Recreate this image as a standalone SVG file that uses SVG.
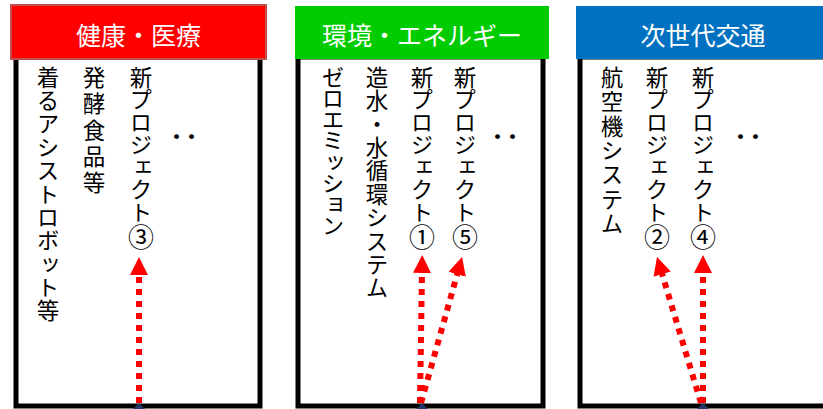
<svg xmlns="http://www.w3.org/2000/svg" width="823" height="409" viewBox="0 0 823 409">
  <style>
    .box { fill: #FFFFFF; stroke: #000000; stroke-width: 5; }
    .hdrtxt { font-family: "Noto Sans CJK JP", sans-serif; font-size: 25px; fill: #FFFFFF; text-anchor: middle; dominant-baseline: central; }
    .vt { font-family: "Noto Sans CJK JP", sans-serif; font-size: 22.5px; fill: #000000; writing-mode: vertical-rl; }
    .num { font-size: 26px; }
    .dots { font-family: "Noto Sans CJK JP", sans-serif; font-size: 30px; font-weight: bold; fill: #000000; text-anchor: middle; }
    .arrow { fill: none; stroke: #FF0000; stroke-width: 6; stroke-dasharray: 6 6; marker-end: url(#head); }
    .src { fill: #1F3864; }
  </style>
  <defs>
    <marker id="head" viewBox="0 0 18 18" markerWidth="18" markerHeight="18" refX="2" refY="9" orient="auto" markerUnits="userSpaceOnUse">
      <path d="M0,0 L18,9 L0,18 z" fill="#FF0000"/>
    </marker>
  </defs>
  <rect width="823" height="409" fill="#FFFFFF"/>

  <g id="panel-health">
    <rect class="box" x="16" y="57" width="244" height="349"/>
    <rect x="11" y="5" width="255" height="54" fill="#FF0000" stroke="#C0504D" stroke-width="2"/>
    <text class="hdrtxt" x="138.5" y="34">健康・医療</text>
    <text class="vt" x="48" y="66" textLength="256" lengthAdjust="spacing">着るアシストロボット等</text>
    <text class="vt" x="94" y="66" textLength="128" lengthAdjust="spacing">発酵食品等</text>
    <text class="vt" x="141" y="66">新プロジェクト<tspan class="num">③</tspan></text>
    <text class="dots" x="184" y="148">‥</text>
  </g>

  <g id="panel-env">
    <rect class="box" x="298" y="57" width="245" height="349"/>
    <rect x="295" y="6" width="254" height="53" fill="#00CC00"/>
    <text class="hdrtxt" x="422" y="34">環境・エネルギー</text>
    <text class="vt" x="333" y="66" textLength="171" lengthAdjust="spacing">ゼロエミッション</text>
    <text class="vt" x="377" y="66" textLength="233" lengthAdjust="spacing">造水・水循環システム</text>
    <text class="vt" x="422" y="66">新プロジェクト<tspan class="num">①</tspan></text>
    <text class="vt" x="465" y="66">新プロジェクト<tspan class="num">⑤</tspan></text>
    <text class="dots" x="505" y="148">‥</text>
  </g>

  <g id="panel-mobility">
    <rect class="box" x="580" y="57" width="246" height="349"/>
    <rect x="576" y="6" width="254" height="53" fill="#0070C0"/>
    <text class="hdrtxt" x="703" y="34">次世代交通</text>
    <text class="vt" x="612" y="66" textLength="169" lengthAdjust="spacing">航空機システム</text>
    <text class="vt" x="657" y="66">新プロジェクト<tspan class="num">②</tspan></text>
    <text class="vt" x="703" y="66">新プロジェクト<tspan class="num">④</tspan></text>
    <text class="dots" x="748" y="148">‥</text>
  </g>

  <g id="connectors">
    <line class="arrow" x1="139" y1="403" x2="139" y2="273"/>
    <line class="arrow" x1="420" y1="403" x2="422" y2="271"/>
    <line class="arrow" x1="421" y1="403" x2="457.7" y2="272.4"/>
    <line class="arrow" x1="701" y1="403" x2="661.6" y2="272.3"/>
    <line class="arrow" x1="703" y1="403" x2="703" y2="271"/>
    <polygon class="src" points="133,409 139,403 145,409"/>
    <polygon class="src" points="416,409 422,403 428,409"/>
    <polygon class="src" points="697,409 703,403 709,409"/>
  </g>
</svg>
